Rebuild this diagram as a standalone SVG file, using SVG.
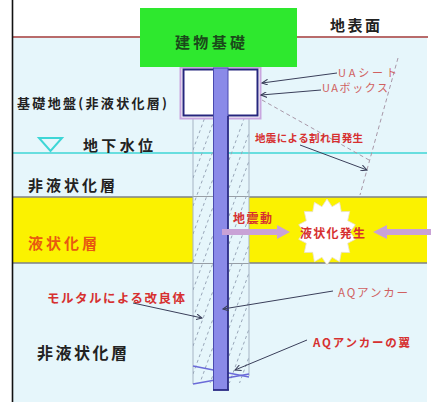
<svg xmlns="http://www.w3.org/2000/svg" width="431" height="402" viewBox="0 0 431 402">
  <style>
    .jp { font-family: "Noto Sans CJK JP", "Noto Sans", sans-serif; }
    .lbl { fill: #222; font-weight: bold; }
    .red { fill: #d63030; font-weight: bold; }
    .ua { fill: #d06060; }
    .lead { stroke: #3a3f5a; stroke-width: 1; fill: none; marker-end: url(#tip); }
    .crack { stroke: #a898a8; stroke-width: 1; fill: none; stroke-dasharray: 4 3; }
    .hatch { stroke: #98a6b8; stroke-width: 1; fill: none; stroke-dasharray: 3 3; }
    .quake { fill: #c9a2d6; }
  </style>
  <defs>
    <marker id="tip" markerWidth="7" markerHeight="6" refX="6" refY="3" orient="auto" markerUnits="userSpaceOnUse">
      <path d="M0,0 L6,3 L0,6" fill="none" stroke="#3a3f5a" stroke-width="1"/>
    </marker>
    <clipPath id="colClip">
      <rect x="193" y="118" width="20" height="265"/>
      <rect x="229" y="118" width="20" height="265"/>
    </clipPath>
  </defs>

  <rect width="431" height="402" fill="#fff"/>

  <!-- ground strata -->
  <g id="strata">
    <rect x="13" y="38" width="414" height="364" fill="#e6f6fb"/>
    <rect x="13" y="197" width="414" height="66" fill="#fbf200"/>
    <line x1="13" y1="197" x2="427" y2="197" stroke="#7c8088" stroke-width="1.5"/>
    <line x1="13" y1="263" x2="427" y2="263" stroke="#7c8088" stroke-width="1.5"/>
    <rect x="193" y="197" width="56" height="66" fill="#e6f6fb"/>
    <line x1="13" y1="153" x2="427" y2="153" stroke="#3ed6d6" stroke-width="1.5"/>
    <line x1="13" y1="37" x2="428" y2="37" stroke="#a03a3a" stroke-width="1.6"/>
    <line x1="12.5" y1="0" x2="12.5" y2="402" stroke="#111" stroke-width="1.6"/>
  </g>

  <!-- water level mark -->
  <g id="water-level">
    <polygon points="39,138 62,138 50.5,151" fill="none" stroke="#3ed6d6" stroke-width="2"/>
    <text class="jp lbl" x="83" y="150.7" font-size="15" textLength="70">地下水位</text>
  </g>

  <!-- mortar improved column -->
  <g id="mortar-column">
    <line x1="193" y1="118" x2="193" y2="384" stroke="#a6b4c4" stroke-width="1"/>
    <line x1="249" y1="118" x2="249" y2="376" stroke="#a6b4c4" stroke-width="1"/>
    <g clip-path="url(#colClip)">
      <path class="hatch" d="M193 150L213 95 M193 178L213 123 M193 206L213 151 M193 234L213 179 M193 262L213 207 M193 290L213 235 M193 318L213 263 M193 346L213 291 M193 374L213 319 M193 402L213 347 M193 430L213 375"/>
      <path class="hatch" d="M229 160L249 105 M229 188L249 133 M229 216L249 161 M229 244L249 189 M229 272L249 217 M229 300L249 245 M229 328L249 273 M229 356L249 301 M229 384L249 329 M229 412L249 357 M229 440L249 385"/>
    </g>
  </g>

  <!-- anchor wings -->
  <g id="anchor-wing">
    <line x1="193" y1="366" x2="249" y2="377" stroke="#6a6ad8" stroke-width="1.3"/>
    <line x1="193" y1="384" x2="249" y2="374" stroke="#6a6ad8" stroke-width="1.3"/>
  </g>

  <!-- UA box -->
  <g id="ua-box">
    <rect x="180.5" y="67.5" width="80" height="51" fill="#fff" stroke="#c9a6df" stroke-width="2"/>
    <rect x="183.5" y="69.5" width="74" height="46" fill="#fff" stroke="#26267e" stroke-width="2"/>
  </g>

  <!-- AQ anchor pile -->
  <g id="aq-anchor">
    <rect x="213.5" y="68" width="14.5" height="322" fill="#8a8ae8" stroke="#4a4ab0" stroke-width="1"/>
    <line x1="228" y1="116" x2="228" y2="390" stroke="#26267e" stroke-width="1.6"/>
    <line x1="213" y1="390" x2="229" y2="390" stroke="#26267e" stroke-width="1.6"/>
  </g>

  <!-- building foundation -->
  <g id="foundation">
    <rect x="140" y="8" width="157" height="59" fill="#2ee82e"/>
    <text class="jp" x="175" y="47.7" font-size="15" textLength="70" fill="#1a4a1a" font-weight="bold">建物基礎</text>
  </g>

  <g id="surface-label">
    <text class="jp lbl" x="330" y="30.7" font-size="15" textLength="50">地表面</text>
  </g>

  <!-- layer labels -->
  <g id="layer-labels">
    <text class="jp lbl" x="17" y="108" font-size="13" textLength="150">基礎地盤(非液状化層)</text>
    <text class="jp lbl" x="28" y="190.7" font-size="15" textLength="87">非液状化層</text>
    <text class="jp" x="28" y="248.7" font-size="15" textLength="69" fill="#e85a10" font-weight="bold">液状化層</text>
    <text class="jp lbl" x="37" y="359" font-size="16" textLength="90">非液状化層</text>
  </g>

  <!-- liquefaction burst -->
  <g id="liquefaction">
    <polygon points="327,199 332.1,206.7 339.6,202.3 341.3,211.7 349.7,211.4 347.7,220.7 355.3,224.7 350,232 355.3,239.3 347.7,243.3 349.7,252.6 341.3,252.3 339.6,261.7 332.1,257.3 327,265 321.9,257.3 314.4,261.7 312.7,252.3 304.3,252.6 306.3,243.3 298.7,239.3 304,232 298.7,224.7 306.3,220.7 304.3,211.4 312.7,211.7 314.4,202.3 321.9,206.7" fill="#fff" stroke="#e8e0d0" stroke-width="0.8"/>
    <text class="jp red" x="300" y="237.5" font-size="12" textLength="65">液状化発生</text>
  </g>

  <!-- seismic motion arrows -->
  <g id="seismic">
    <text class="jp red" x="233" y="222.5" font-size="12" textLength="39">地震動</text>
    <polygon class="quake" points="222,229 277,229 277,225 290,232 277,239 277,235 222,235"/>
    <polygon class="quake" points="431,229 387,229 387,225 373,232 387,239 387,235 431,235"/>
  </g>

  <!-- crack annotation -->
  <g id="crack">
    <line class="crack" x1="262" y1="100" x2="369" y2="160"/>
    <line class="crack" x1="398" y1="58" x2="360" y2="195"/>
    <text class="jp red" x="255" y="142" font-size="10.5" textLength="108">地震による割れ目発生</text>
  </g>

  <!-- leaders -->
  <g id="connectors">
    <line class="lead" x1="337" y1="73" x2="262" y2="83"/>
    <line class="lead" x1="321" y1="90" x2="261" y2="95"/>
    <line class="lead" x1="300" y1="145" x2="367" y2="170"/>
    <line class="lead" x1="133" y1="303" x2="202" y2="318"/>
    <line class="lead" x1="333" y1="291" x2="223" y2="309"/>
    <line class="lead" x1="307" y1="340" x2="235" y2="370"/>
  </g>

  <g id="callouts">
    <text class="jp ua" x="338" y="77" font-size="11" textLength="59">UAシート</text>
    <text class="jp ua" x="322" y="92" font-size="11" textLength="66">UAボックス</text>
    <text class="jp red" x="47" y="302.7" font-size="12.5" textLength="138">モルタルによる改良体</text>
    <text class="jp ua" x="338" y="297" font-size="11.5" textLength="70">AQアンカー</text>
    <text class="jp red" x="313" y="347" font-size="11.5" textLength="97">AQアンカーの翼</text>
  </g>
</svg>
